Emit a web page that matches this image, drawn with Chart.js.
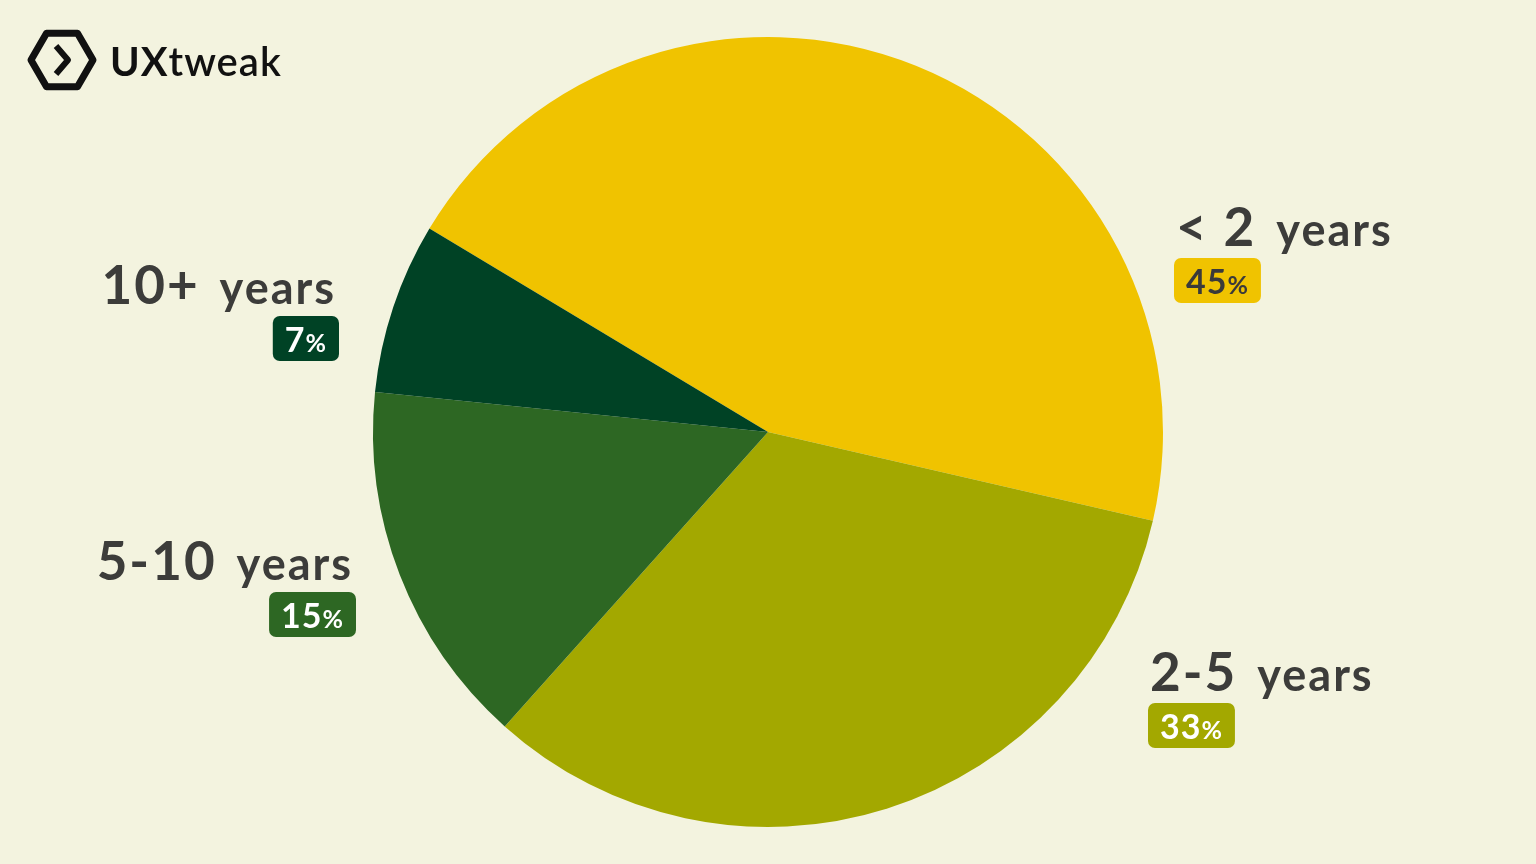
<!DOCTYPE html>
<html><head><meta charset="utf-8">
<script src="https://cdn.jsdelivr.net/npm/chart.js@4/dist/chart.umd.min.js"></script>
<style>html,body{margin:0;padding:0;background:#F3F3DF;overflow:hidden}#w{width:1536px;height:864px;position:relative}</style>
</head><body><div id="w"><canvas id="c"></canvas></div>
<script>
const categories = ["< 2 years", "2-5 years", "5-10 years", "10+ years"];
const values = [45, 33, 15, 7];
const colors = ["#F0C300", "#A3A800", "#2D6723", "#004225"];
const pctTextColors = ["#3a3a3a", "#ffffff", "#ffffff", "#ffffff"];
// label anchors: [x, baseline, align]
const anchors = [[1176, 246, "left"], [1150, 691, "left"], [353, 580, "right"], [336, 304, "right"]];

function rr(ctx, x, y, w, h, r) {
  ctx.beginPath(); ctx.moveTo(x + r, y); ctx.arcTo(x + w, y, x + w, y + h, r); ctx.arcTo(x + w, y + h, x, y + h, r);
  ctx.arcTo(x, y + h, x, y, r); ctx.arcTo(x, y, x + w, y, r); ctx.closePath();
}
const labelPlugin = {
  id: 'labels',
  afterDraw(chart) {
    const ctx = chart.ctx;
    ctx.save();
    ctx.textBaseline = 'alphabetic';
    categories.forEach((cat, i) => {
      const [x, y, al] = anchors[i];
      const numPart = cat.split(' years')[0], rest = 'years';
      const f1 = 'bold 53px Lato', f2 = 'bold 45px Lato';
      ctx.letterSpacing = '2px';
      ctx.font = f1; const w1 = ctx.measureText(numPart).width;
      ctx.font = f2; const w2 = ctx.measureText(rest).width;
      const gap = 20;
      const sx = al === 'left' ? x : x - w1 - w2 - gap;
      ctx.fillStyle = '#3c3c3a'; ctx.textAlign = 'left';
      ctx.font = f1; ctx.fillText(numPart, sx, y);
      ctx.font = f2; ctx.fillText(rest, sx + w1 + gap, y);
      // badge
      const n = String(values[i]);
      const g1 = 'bold 34px Lato', g2 = 'bold 25px Lato';
      ctx.letterSpacing = '1px';
      ctx.font = g1; const a = ctx.measureText(n).width;
      ctx.font = g2; const b = ctx.measureText('%').width;
      const bw = a + b + 24, bh = 45;
      const bx = al === 'left' ? x - 2 : x + 3 - bw, by = y + 12;
      ctx.fillStyle = colors[i]; rr(ctx, bx, by, bw, bh, 7); ctx.fill();
      ctx.fillStyle = pctTextColors[i];
      ctx.font = g1; ctx.fillText(n, bx + 12, by + 36);
      ctx.font = g2; ctx.fillText('%', bx + 12 + a, by + 36);
    });
    ctx.letterSpacing = '0px';
    // logo
    ctx.strokeStyle = '#111'; ctx.lineWidth = 7; ctx.lineJoin = 'round';
    const cx = 62, cy = 60, r = 31;
    ctx.beginPath();
    for (let k = 0; k < 6; k++) { const an = Math.PI / 3 * k; const px = cx + r * Math.cos(an), py = cy + r * Math.sin(an); k ? ctx.lineTo(px, py) : ctx.moveTo(px, py); }
    ctx.closePath(); ctx.stroke();
    ctx.lineWidth = 6; ctx.beginPath(); ctx.moveTo(56, 46); ctx.lineTo(68, 60); ctx.lineTo(56, 74); ctx.stroke();
    ctx.fillStyle = '#111'; ctx.textAlign = 'left';
    ctx.letterSpacing = '1px';
    ctx.font = 'bold 40px Lato'; ctx.fillText('UX', 110, 76);
    const uw = ctx.measureText('UX').width;
    ctx.font = '600 40px Lato'; ctx.fillText('tweak', 110 + uw, 76);
    ctx.restore();
  }
};
new Chart(document.getElementById('c'), {
  type: 'pie',
  data: { labels: categories, datasets: [{ data: values, backgroundColor: colors, borderWidth: 0 }] },
  options: {
    responsive: true, maintainAspectRatio: false, animation: false,
    rotation: -59,
    layout: { padding: 37 },
    plugins: { legend: { display: false }, tooltip: { enabled: false } }
  },
  plugins: [labelPlugin]
});
</script></body></html>
